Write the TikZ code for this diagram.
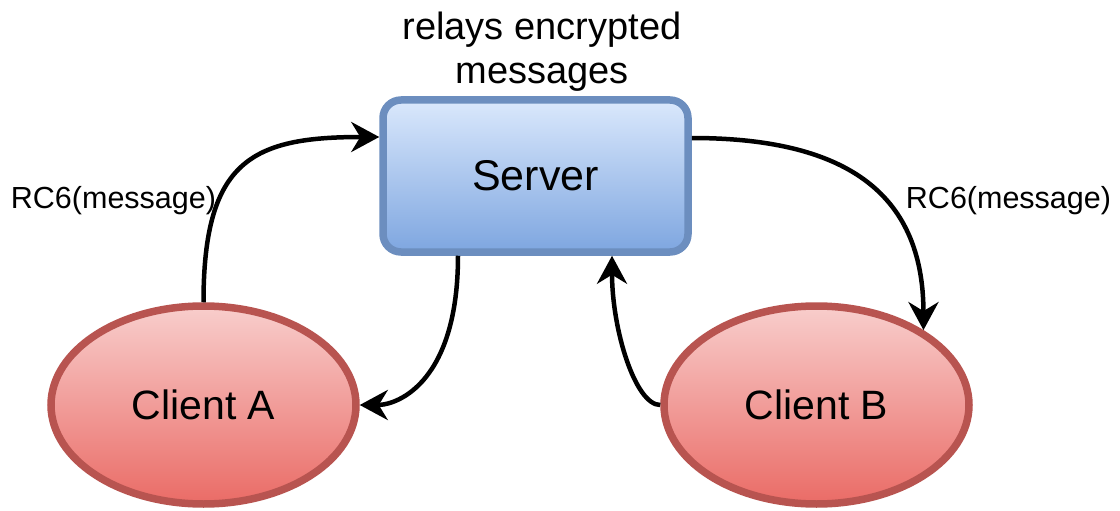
\documentclass[tikz,border=0pt]{standalone}
\usepackage{fontspec}
\setmainfont{Liberation Sans}
\usetikzlibrary{shapes.geometric,arrows.meta}
\definecolor{srvfillA}{HTML}{DAE8FC}
\definecolor{srvfillB}{HTML}{7EA6E0}
\definecolor{srvline}{HTML}{6C8EBF}
\definecolor{clifillA}{HTML}{F8CECC}
\definecolor{clifillB}{HTML}{EA6B66}
\definecolor{cliline}{HTML}{B85450}
\tikzset{
  server/.style={rectangle, rounded corners=18pt, draw=srvline, line width=7.5pt,
    top color=srvfillA, bottom color=srvfillB,
    minimum width=305pt, minimum height=152pt, font=\fontsize{43}{50}\selectfont},
  client/.style={ellipse, draw=cliline, line width=7.5pt,
    top color=clifillA, bottom color=clifillB,
    minimum width=305pt, minimum height=198pt, inner sep=0pt,
    font=\fontsize{41}{48}\selectfont},
  flow/.style={line width=4.5pt, -{Stealth[length=28pt,width=30pt,inset=9pt]}},
  lbl/.style={font=\fontsize{30.5}{36}\selectfont, inner sep=0pt},
  note/.style={font=\fontsize{38}{44}\selectfont, inner sep=0pt, align=center},
}
\begin{document}
\begin{tikzpicture}[x=1pt,y=-1pt]
\useasboundingbox (0,0) rectangle (1120,511);

% nodes
\node[server] (srv) at (535.5,176) {Server};
\node[client] (ca) at (203.5,405) {Client A};
\node[client] (cb) at (816.5,405) {Client B};
\node[note] (relay) at (542,52) {relays encrypted\\messages};
\node[lbl] (la) at (113.5,201) {RC6(message)};
\node[lbl] (lb) at (1008.5,201) {RC6(message)};

% message flow
\draw[flow] (ca.north) .. controls +(0,-142) and +(-127,0) .. ([yshift=39pt]srv.west);
\draw[flow] ([xshift=-77.5pt]srv.south) .. controls +(0,124) and +(40,0) .. (ca.east);
\draw[flow] (cb.west) .. controls +(-25,0) and +(0,74) .. ([xshift=76.5pt]srv.south);
\draw[flow] ([yshift=38pt]srv.east) .. controls +(150,0) and +(0,-140) .. (cb.35);
\end{tikzpicture}
\end{document}
